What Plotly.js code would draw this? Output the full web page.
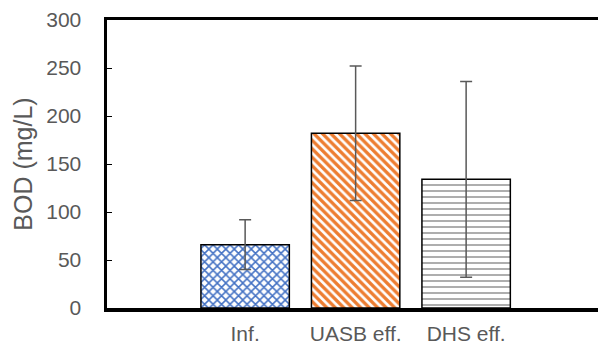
<!DOCTYPE html>
<html>
<head>
<meta charset="utf-8">
<script src="https://cdn.plot.ly/plotly-3.0.1.min.js"></script>
<style>html,body{margin:0;padding:0;overflow:hidden;background:#fff;width:598px;height:347px}</style>
</head>
<body>
<div id="chart"></div>
<script>
const categories = ["Inf.", "UASB eff.", "DHS eff."];
const bodMean = [66, 182, 134];
const bodSD = [26, 70, 102];
const xPos = [0, 1, 2];

const fills = [
  {fg: "#4472C4", shape: "x", size: 6, solidity: 0.45},
  {fg: "#ED7D31", shape: "\\", size: 6, solidity: 0.55},
  {fg: "#A5A5A5", shape: "-", size: 6, solidity: 0.3}
];

const trace = {
  type: "bar",
  x: xPos,
  y: bodMean,
  width: 0.8,
  marker: {
    color: "#ffffff",
    line: {color: "#000000", width: 1.5},
    pattern: {
      shape: fills.map(f => f.shape),
      fgcolor: fills.map(f => f.fg),
      bgcolor: "#ffffff",
      fgopacity: 1,
      size: fills.map(f => f.size),
      solidity: fills.map(f => f.solidity),
      fillmode: "replace"
    }
  },
  error_y: {type: "data", array: bodSD, visible: true, color: "#595959", thickness: 1.5, width: 6},
  hoverinfo: "skip"
};

const layout = {
  width: 640, height: 347,
  margin: {l: 107, r: 10, t: 20, b: 39},
  paper_bgcolor: "#ffffff", plot_bgcolor: "#ffffff",
  showlegend: false,
  font: {family: "Liberation Sans, Arial, sans-serif", color: "#595959", size: 21},
  xaxis: {
    range: [-1.25, 3.483],
    tickvals: xPos, ticktext: categories,
    showgrid: false, zeroline: false,
    showline: true, linecolor: "#000000", linewidth: 3.5, mirror: true,
    ticks: "", tickfont: {size: 21, color: "#595959"},
    ticklabelstandoff: 4,
    fixedrange: true
  },
  yaxis: {
    range: [0, 300], tick0: 0, dtick: 50,
    showgrid: false, zeroline: false,
    showline: true, linecolor: "#000000", linewidth: 3.5, mirror: true,
    ticks: "inside", ticklen: 5, tickwidth: 1, tickcolor: "#000000",
    ticklabelstandoff: 18,
    tickfont: {size: 21, color: "#595959"},
    title: {text: "BOD (mg/L)", font: {size: 25, color: "#595959"}, standoff: 7},
    fixedrange: true
  }
};

Plotly.newPlot("chart", [trace], layout, {displayModeBar: false, staticPlot: true});
</script>
</body>
</html>
